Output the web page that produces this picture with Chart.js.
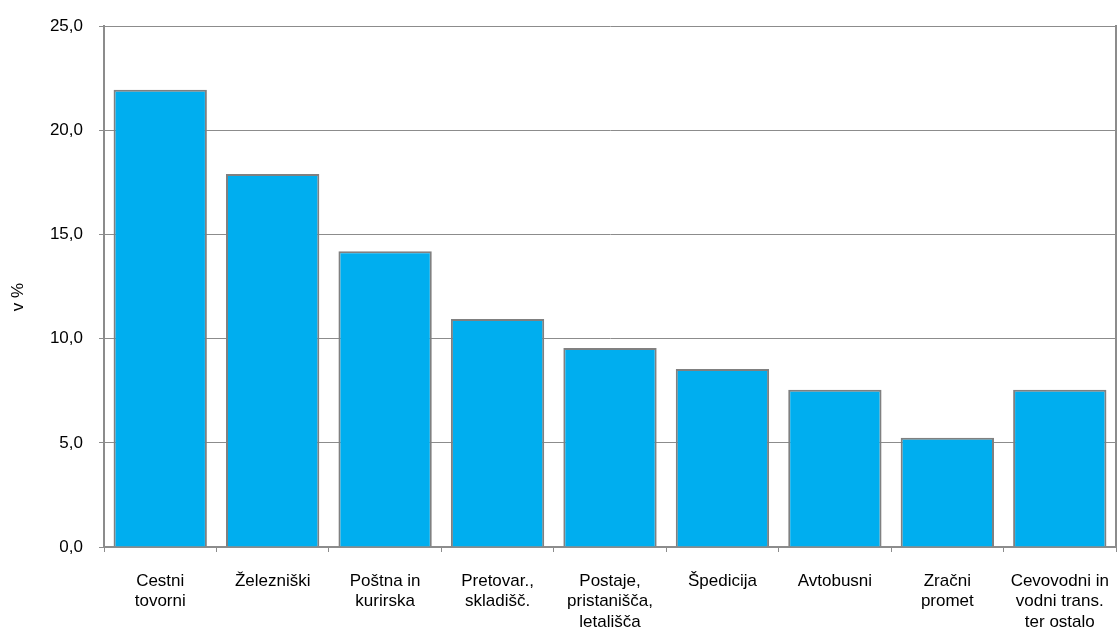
<!DOCTYPE html>
<html>
<head>
<meta charset="utf-8">
<script src="https://cdn.jsdelivr.net/npm/chart.js@4"></script>
<style>
    body { margin: 0; background: #fff; }
    #wrap { width: 1118px; height: 630px; position: relative; }
</style>
</head>
<body>
<div id="wrap"><canvas id="chart"></canvas></div>
<script>
// categories (multi-line labels) and share values in %
const categories = [
    ['Cestni', 'tovorni'],
    ['Železniški'],
    ['Poštna in', 'kurirska'],
    ['Pretovar.,', 'skladišč.'],
    ['Postaje,', 'pristanišča,', 'letališča'],
    ['Špedicija'],
    ['Avtobusni'],
    ['Zračni', 'promet'],
    ['Cevovodni in', 'vodni trans.', 'ter ostalo']
];
const shares = [21.95, 17.9, 14.2, 10.95, 9.55, 8.55, 7.55, 5.25, 7.55];
const yTicks = [0, 5, 10, 15, 20, 25];
const yTitle = 'v %';

const gridGray = '#8c8c8c';
const fontFamily = '"Liberation Sans", Arial, sans-serif';
const font = { family: fontFamily, size: 17, lineHeight: 1.2 };

// y axis title, placed like the original (slightly below the middle)
const yTitlePlugin = {
    id: 'yTitle',
    afterDraw(chart) {
        const ctx = chart.ctx;
        ctx.save();
        ctx.translate(18, 297);
        ctx.rotate(-Math.PI / 2);
        ctx.font = '17px ' + fontFamily;
        ctx.fillStyle = '#000';
        ctx.textAlign = 'center';
        ctx.textBaseline = 'middle';
        ctx.fillText(yTitle, 0, 0);
        ctx.restore();
    }
};

new Chart(document.getElementById('chart').getContext('2d'), {
    type: 'bar',
    data: {
        labels: categories,
        datasets: [{
            label: yTitle,
            data: shares,
            backgroundColor: '#00AEEF',
            borderColor: '#808080',
            borderWidth: 2,
            barPercentage: 0.83,
            categoryPercentage: 1
        }]
    },
    options: {
        responsive: true,
        maintainAspectRatio: false,
        animation: false,
        layout: { padding: { top: 24, right: 0, left: 0, bottom: 0 } },
        plugins: {
            legend: { display: false },
            tooltip: { enabled: false }
        },
        scales: {
            x: {
                offset: true,
                grid: {
                    offset: true,
                    drawOnChartArea: false,
                    drawTicks: true,
                    tickLength: 5,
                    color: gridGray
                },
                border: { color: gridGray, width: 2 },
                ticks: {
                    color: '#000',
                    font: font,
                    padding: 19,
                    maxRotation: 0,
                    autoSkip: false
                },
                afterFit: axis => {
                    axis.height = 83;
                    axis.paddingLeft = 0;
                    axis.paddingRight = 0;
                }
            },
            y: {
                min: 0,
                max: 25,
                afterBuildTicks: axis => { axis.ticks = yTicks.map(v => ({ value: v })); },
                grid: {
                    color: gridGray,
                    lineWidth: 1,
                    tickLength: 5
                },
                border: { color: gridGray, width: 2 },
                ticks: {
                    color: '#000',
                    font: font,
                    padding: 16,
                    callback: v => v.toFixed(1).replace('.', ',')
                },
                afterFit: axis => { axis.width = 104; }
            },
            yRight: {
                position: 'right',
                min: 0,
                max: 25,
                grid: { drawOnChartArea: false, drawTicks: false },
                border: { color: gridGray, width: 2 },
                ticks: { display: false },
                afterFit: axis => { axis.width = 2; }
            }
        }
    },
    plugins: [yTitlePlugin]
});
</script>
</body>
</html>
